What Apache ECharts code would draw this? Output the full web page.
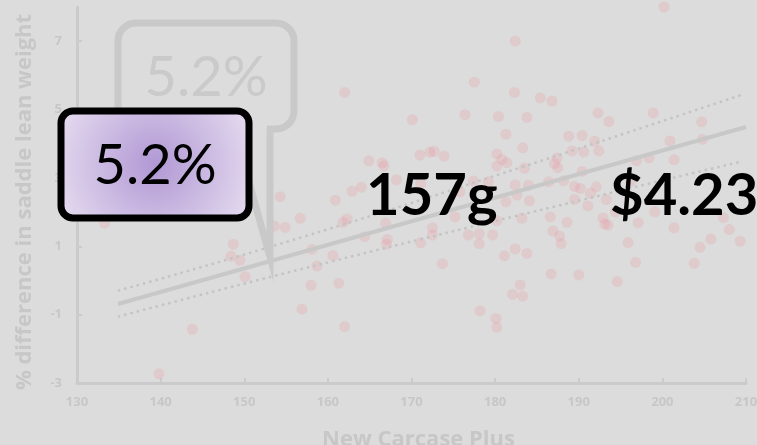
<!DOCTYPE html>
<html>
<head>
<meta charset="utf-8">
<title>Saddle lean weight vs New Carcase Plus</title>
<script src="https://cdn.jsdelivr.net/npm/echarts@6/dist/echarts.min.js"></script>
<style>
  html, body { margin: 0; padding: 0; background: #dcdcdc; }
  #chart { width: 757px; height: 445px; }
</style>
</head>
<body>
<div id="chart"></div>
<script>
// New Carcase Plus score (x) and % difference in saddle lean weight (y)
const carcasePlus = [
  182.4, 177.5, 162.0, 182.3, 170.1, 176.4, 180.4, 183.8, 181.3, 183.3,
  171.0, 172.2, 172.7, 173.9, 164.9, 166.5, 166.7, 180.2, 180.8, 181.4,
  180.2, 183.5, 168.2, 164.0, 162.9, 160.9, 171.1, 175.8, 177.4, 179.2,
  182.4, 184.0, 182.6, 200.2, 185.4, 186.8, 192.3, 193.6, 198.9, 204.7,
  188.8, 190.4, 191.9, 189.2, 190.6, 192.4, 200.9, 204.8, 187.4, 187.1,
  187.5, 196.9, 198.4, 201.4, 190.4, 186.4, 188.2, 189.5, 190.2, 192.1,
  191.4, 189.5, 193.3, 196.2, 184.1, 191.1, 194.4, 186.6, 188.6, 186.9,
  187.7, 187.9, 183.8, 192.9, 193.1, 193.5, 197.1, 199.1, 201.4, 207.3,
  208.0, 209.3, 205.8, 204.5, 203.8, 195.9, 196.8, 186.7, 190.0, 194.6,
  183.3, 156.7, 161.8, 162.3, 166.9, 164.4, 158.1, 160.6, 158.7, 167.1,
  167.0, 171.1, 172.5, 172.5, 173.7, 175.2, 176.8, 178.1, 178.1, 179.7,
  180.2, 181.3, 183.2, 181.1, 182.4, 158.0, 161.3, 156.9, 162.0, 178.2,
  180.1, 180.2, 183.0, 182.1, 133.3, 154.3, 153.6, 154.9, 148.7, 148.4,
  149.5, 150.1, 143.8, 139.8
];
const saddleLeanDiff = [
  7.00, 5.80, 5.50, 5.50, 4.70, 4.85, 4.80, 4.77, 4.28, 3.88,
  3.67, 3.75, 3.78, 3.64, 3.50, 3.44, 3.35, 3.70, 3.54, 3.45,
  3.35, 3.28, 2.94, 2.73, 2.61, 2.35, 2.84, 2.59, 2.91, 2.89,
  2.79, 2.78, 2.50, 8.00, 5.34, 5.25, 4.90, 4.65, 4.90, 4.64,
  4.22, 4.24, 4.07, 3.79, 3.76, 3.79, 4.08, 4.13, 3.58, 3.42,
  3.30, 3.50, 3.59, 3.53, 3.19, 2.89, 2.92, 2.75, 2.69, 2.74,
  2.55, 2.37, 2.37, 2.89, 2.33, 2.18, 2.01, 1.86, 1.70, 1.45,
  1.30, 1.08, 0.79, 1.83, 1.65, 1.62, 1.69, 2.01, 1.54, 1.84,
  1.49, 1.15, 1.21, 0.97, 0.50, 1.11, 0.53, 0.19, 0.16, -0.03,
  -0.46, 1.82, 1.70, 1.80, 1.67, 1.28, 0.91, 0.73, 0.42, 1.20,
  1.06, 1.10, 1.54, 1.33, 0.49, 1.86, 1.33, 1.37, 1.08, 1.33,
  1.75, 2.30, 1.82, 0.72, 0.92, -0.14, -0.08, -0.84, -1.35, -0.89,
  -1.11, -1.37, -0.13, -0.41, 1.67, 2.45, 1.59, 1.55, 1.06, 0.71,
  0.59, 0.11, -1.43, -2.73
];

// Fitted line and its dotted bands
const fitX = [134.9, 210.0];
const fitY = [-0.69, 4.49];
const upperBandX = [134.9, 157.1, 183.6, 209.6];
const upperBandY = [-0.30, 1.28, 3.35, 5.44];
const lowerBandX = [134.9, 157.1, 190.6, 209.3];
const lowerBandY = [-1.06, 0.35, 2.37, 3.47];

// Axis ticks
const xTickMin = 130, xTickMax = 210, xTickStep = 10;
const yTickValues = [-3, -1, 1, 3, 5, 7];

// Callout texts
const leanGain = '5.2%';
const weightGain = '157g';
const valueGain = '$4.23';

const zip = (xs, ys) => xs.map((x, i) => [x, ys[i]]);

const faint = '#c7c7c7';
const axisGrey = '#cbcbcb';
const bg = '#dcdcdc';
const axisFont = 'Open Sans';

const chart = echarts.init(document.getElementById('chart'), null, { renderer: 'canvas' });

chart.setOption({
  backgroundColor: bg,
  animation: false,
  grid: { left: 77, right: 11, top: 7, bottom: 62, outerBoundsMode: 'none' },
  xAxis: {
    type: 'value',
    min: xTickMin, max: xTickMax, interval: xTickStep,
    name: 'New Carcase Plus',
    nameLocation: 'middle',
    nameGap: 46,
    nameTextStyle: { color: faint, fontSize: 22, fontWeight: 'bold', fontFamily: axisFont, padding: [0, 0, 0, 14] },
    axisLine: { show: true, onZero: false, lineStyle: { color: axisGrey, width: 3 } },
    axisTick: { show: true, inside: true, length: 5, lineStyle: { color: axisGrey, width: 2 } },
    axisLabel: { color: faint, fontSize: 13, fontWeight: 'bold', fontFamily: axisFont, margin: 13 },
    splitLine: { show: false }
  },
  yAxis: {
    type: 'value',
    min: -3, max: 8,
    name: '% difference in saddle lean weight',
    nameLocation: 'middle',
    nameGap: 41,
    nameRotate: 90,
    nameTextStyle: { color: faint, fontSize: 22, fontWeight: 'bold', fontFamily: axisFont, padding: [0, 0, 0, -14] },
    axisLine: { show: true, onZero: false, lineStyle: { color: axisGrey, width: 3 } },
    axisTick: { show: true, inside: true, length: 5, customValues: yTickValues, lineStyle: { color: axisGrey, width: 2 } },
    axisLabel: { color: faint, fontSize: 13, fontWeight: 'bold', fontFamily: axisFont, margin: 15, customValues: yTickValues },
    splitLine: { show: false }
  },
  series: [
    {
      type: 'scatter',
      data: zip(carcasePlus, saddleLeanDiff),
      symbolSize: 11,
      itemStyle: { color: 'rgba(232,158,164,0.36)' },
      z: 2
    },
    {
      type: 'line',
      data: zip(fitX, fitY),
      showSymbol: false,
      lineStyle: { color: '#c8c8c8', width: 4 },
      z: 3
    },
    {
      type: 'line',
      data: zip(upperBandX, upperBandY),
      smooth: true,
      showSymbol: false,
      lineStyle: { color: '#c4c4c4', width: 2.5, type: [2.5, 4] },
      z: 3
    },
    {
      type: 'line',
      data: zip(lowerBandX, lowerBandY),
      smooth: true,
      showSymbol: false,
      lineStyle: { color: '#c4c4c4', width: 2.5, type: [2.5, 4] },
      z: 3
    }
  ],
  graphic: [
    // faded speech bubble behind the highlighted box
    {
      type: 'rect',
      z: 10,
      shape: { x: 118, y: 23, width: 176, height: 106, r: 18 },
      style: { fill: 'none', stroke: '#c9c9c9', lineWidth: 7 }
    },
    {
      type: 'rect',
      z: 10,
      shape: { x: 237, y: 124, width: 30, height: 10 },
      style: { fill: bg }
    },
    {
      type: 'polyline',
      z: 10,
      shape: { points: [[234, 129], [270, 257], [270, 129]] },
      style: { fill: 'none', stroke: '#c9c9c9', lineWidth: 7, lineJoin: 'miter', miterLimit: 20 }
    },
    {
      type: 'text',
      z: 11,
      x: 206, y: 78,
      style: {
        text: leanGain, fill: '#cacaca',
        font: '56px Lato', align: 'center', verticalAlign: 'middle'
      }
    },
    // highlighted result box
    {
      type: 'rect',
      z: 12,
      shape: { x: 61, y: 111, width: 188, height: 107, r: 12 },
      style: {
        fill: new echarts.graphic.RadialGradient(0.5, 0.5, 0.95, [
          { offset: 0, color: '#b198d4' },
          { offset: 1, color: '#e6ddf0' }
        ]),
        stroke: '#000', lineWidth: 7
      }
    },
    {
      type: 'text',
      z: 13,
      x: 155, y: 166,
      style: {
        text: leanGain, fill: '#000',
        font: '56px Lato', align: 'center', verticalAlign: 'middle'
      }
    },
    {
      type: 'text',
      z: 13,
      x: 366, y: 196,
      style: {
        text: weightGain, fill: '#000',
        font: 'bold 58px Lato', align: 'left', verticalAlign: 'middle'
      }
    },
    {
      type: 'text',
      z: 13,
      x: 610, y: 196,
      style: {
        text: valueGain, fill: '#000',
        font: 'bold 58px Lato', align: 'left', verticalAlign: 'middle'
      }
    }
  ]
});
</script>
</body>
</html>
